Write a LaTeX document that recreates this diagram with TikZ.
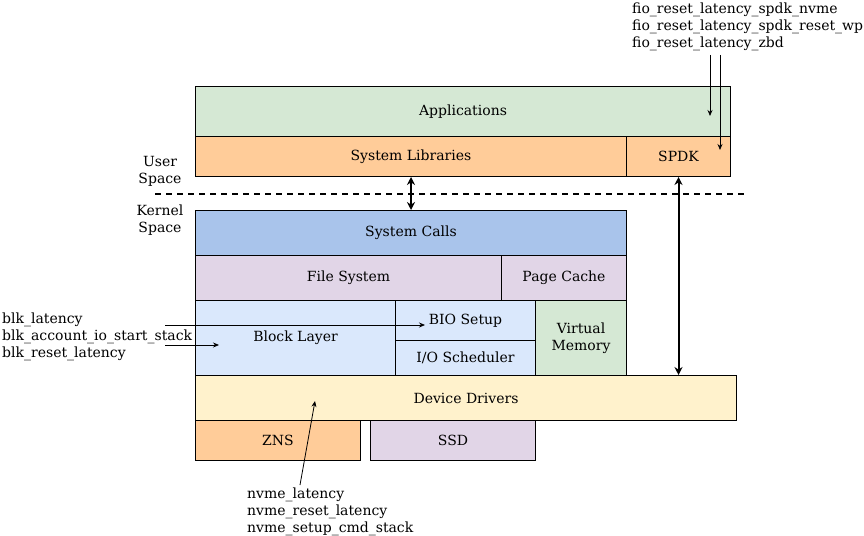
\documentclass[tikz,border=0pt]{standalone}
\usepackage{fontspec}
\setmainfont{DejaVu Serif}
\usepackage{xcolor}
\usepackage{tikz}
\usetikzlibrary{arrows.meta,positioning,calc}
\definecolor{layergreen}{HTML}{D5E8D4}
\definecolor{layerorange}{HTML}{FFCC99}
\definecolor{layerblue}{HTML}{A9C4EB}
\definecolor{layerlilac}{HTML}{E1D5E7}
\definecolor{layerlight}{HTML}{DAE8FC}
\definecolor{layeryellow}{HTML}{FFF2CC}

\begin{document}
\begin{tikzpicture}[x=1pt,y=-1pt,
    every node/.style={font=\fontsize{14}{17}\selectfont},
    layer/.style={draw,line width=1pt,inner sep=0pt,anchor=north west,align=center},
    probe/.style={align=left,anchor=north west,inner sep=0pt},
    hook/.style={-{Stealth[length=6pt,width=5pt]},line width=0.8pt},
    pipe/.style={{Stealth[length=8pt,width=8pt]}-{Stealth[length=8pt,width=8pt]},line width=2pt}]
    \useasboundingbox (0,0) rectangle (864,535);

    % User space
    \node[layer,fill=layergreen,minimum width=535pt,minimum height=50pt] (apps) at (195,86) {Applications};
    \node[layer,fill=layerorange,minimum width=431pt,minimum height=40pt] (syslib) at (195,136) {System Libraries};
    \node[layer,fill=layerorange,minimum width=104pt,minimum height=40pt] (spdk) at (626,136) {SPDK};

    % Boundary between the two spaces
    \draw[dashed,line width=1.4pt,dash pattern=on 6pt off 5pt] (155,194) -- (746,194);
    \node[align=center] (user) at (160,171) {User\\Space};
    \node[align=center] (kernel) at (160,220) {Kernel\\Space};

    % Kernel space
    \node[layer,fill=layerblue,minimum width=431pt,minimum height=45pt] (syscalls) at (195,210) {System Calls};
    \node[layer,fill=layerlilac,minimum width=306pt,minimum height=45pt] (fs) at (195,255) {File System};
    \node[layer,fill=layerlilac,minimum width=125pt,minimum height=45pt] (pcache) at (501,255) {Page Cache};
    \node[layer,fill=layerlight,minimum width=200pt,minimum height=75pt] (block) at (195,300) {Block Layer};
    \node[layer,fill=layerlight,minimum width=140pt,minimum height=40pt] (bio) at (395,300) {BIO Setup};
    \node[layer,fill=layerlight,minimum width=140pt,minimum height=35pt] (sched) at (395,340) {I/O Scheduler};
    \node[layer,fill=layergreen,minimum width=91pt,minimum height=75pt] (vmem) at (535,300) {Virtual\\Memory};
    \node[layer,fill=layeryellow,minimum width=541pt,minimum height=45pt] (drivers) at (195,375) {Device Drivers};
    \node[layer,fill=layerorange,minimum width=165pt,minimum height=40pt] (zns) at (195,420) {ZNS};
    \node[layer,fill=layerlilac,minimum width=165pt,minimum height=40pt] (ssd) at (370,420) {SSD};

    % Paths through the boundary
    \draw[pipe] (syslib.south) -- (syscalls.north);
    \draw[pipe] (spdk.south) -- (spdk.south |- drivers.north);

    % Probe labels
    \node[probe] (fio) at (632,3) {fio\_reset\_latency\_spdk\_nvme\\fio\_reset\_latency\_spdk\_reset\_wp\\fio\_reset\_latency\_zbd};
    \node[probe] (blk) at (2,313) {blk\_latency\\blk\_account\_io\_start\_stack\\blk\_reset\_latency};
    \node[probe] (nvme) at (247,488) {nvme\_latency\\nvme\_reset\_latency\\nvme\_setup\_cmd\_stack};

    % Probe arrows
    \coordinate (fioA) at (710,55);
    \coordinate (fioB) at (720,55);
    \draw[hook] (fioA) -- ++(0,61);
    \draw[hook] (fioB) -- ++(0,95);
    \coordinate (blkA) at (165,325);
    \coordinate (blkB) at (165,345);
    \draw[hook] (blkA) -- ([xshift=30pt]bio.west |- blkA);
    \draw[hook] (blkB) -- ++(54,0);
    \coordinate (nvmeA) at (300,485);
    \draw[hook] (nvmeA) -- (315,401);
\end{tikzpicture}
\end{document}
